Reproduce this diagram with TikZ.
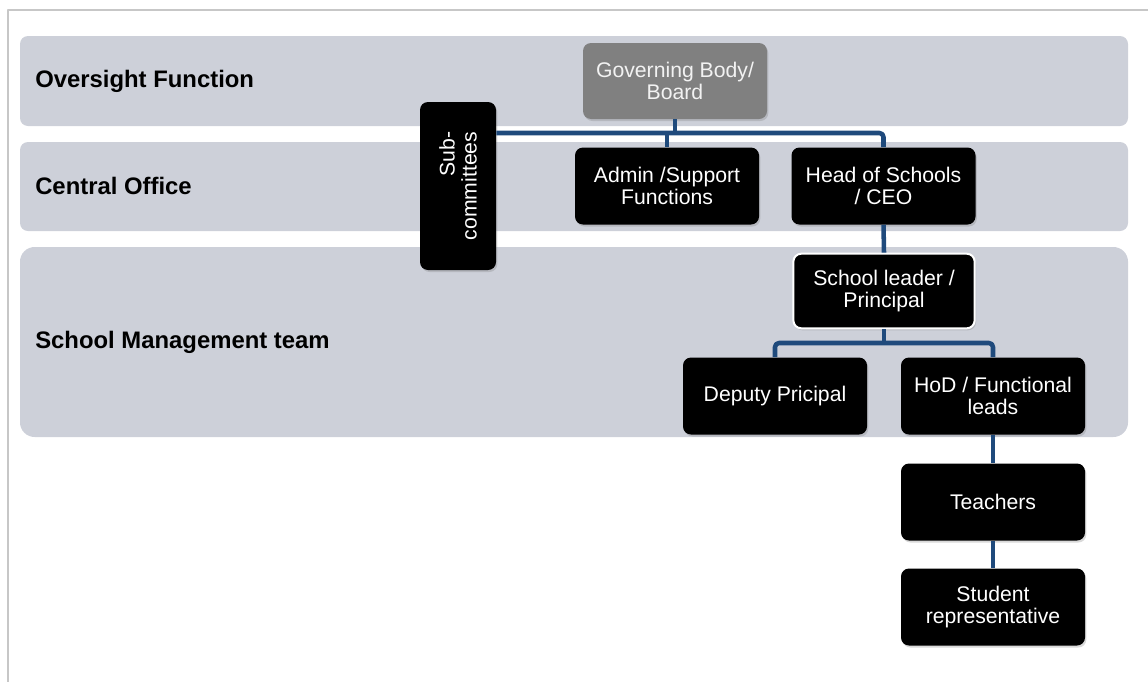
\documentclass[tikz,border=0pt]{standalone}
\usepackage{fontspec}
\setmainfont{Liberation Sans}
\usetikzlibrary{shadows}
\definecolor{bandgray}{HTML}{CDD0D9}
\definecolor{linkblue}{HTML}{1F4A7C}
\definecolor{boardgray}{HTML}{808080}
\begin{document}
\begin{tikzpicture}[x=0.75pt,y=-0.75pt,line join=round]
 \tikzset{band/.style={fill=bandgray,rounded corners=6pt},
  band label/.style={anchor=west,inner sep=0pt,font=\fontsize{17.9}{20}\selectfont\bfseries},
  box/.style={fill=black,text=white,rounded corners=6pt,align=center,inner sep=2pt,
   minimum width=138pt,minimum height=57.75pt,font=\fontsize{15.9}{16.6}\selectfont,
   drop shadow={shadow xshift=1pt,shadow yshift=-1.5pt,opacity=0.3}},
  link/.style={draw=linkblue,line width=3.4pt,rounded corners=3pt}}
 \useasboundingbox (0,0) rectangle (1148,682);
 \draw[black!22,line width=1.5pt] (1148,10) -- (8,10) -- (8,682);
 % bands
 \fill[band] (20,36) rectangle (1128,126);
 \fill[band] (20,142) rectangle (1128,231);
 \fill[band,rounded corners=11pt] (20,247) rectangle (1128,437);
 \node[band label] (over) at (35,81) {Oversight Function};
 \node[band label] (central) at (35,186) {Central Office};
 \node[band label] (smt) at (35,342) {School Management team};
 % boxes
 \node[box,fill=boardgray,text=black!5,minimum height=57pt] (board) at (675,81) {Governing Body/\\Board};
 \node[box,rotate=90,align=right,minimum width=126pt,minimum height=57pt] (sub) at (458,186) {Sub-\\committees};
 \node[box] (admin) at (667,186) {Admin /Support\\Functions};
 \node[box] (ceo) at (883.5,186) {Head of Schools\\/ CEO};
 \node[box,draw=white,line width=1.5pt,minimum width=136pt,minimum height=56pt] (lead) at (884,291) {School leader /\\Principal};
 \node[box] (deputy) at (775,396) {Deputy Pricipal};
 \node[box] (hod) at (993,396) {HoD / Functional\\leads};
 \node[box] (teach) at (993,502) {Teachers};
 \node[box] (student) at (993,607) {Student\\representative};
 % links
 \coordinate (bus) at (ceo.north |- 0,133);
 \coordinate (split) at (lead.south |- 0,343);
 \draw[link] (sub.south |- bus) -- (bus) -- (ceo.north);
 \draw[link] (board.south) -- (board.south |- bus);
 \draw[link] (admin.north |- bus) -- (admin.north);
 \draw[link] (ceo.south) -- (lead.north);
 \draw[link] (lead.south) -- (split);
 \draw[link] (deputy.north) -- (deputy.north |- split) -- (hod.north |- split) -- (hod.north);
 \draw[link] (hod.south) -- (teach.north);
 \draw[link] (teach.south) -- (student.north);
\end{tikzpicture}
\end{document}
